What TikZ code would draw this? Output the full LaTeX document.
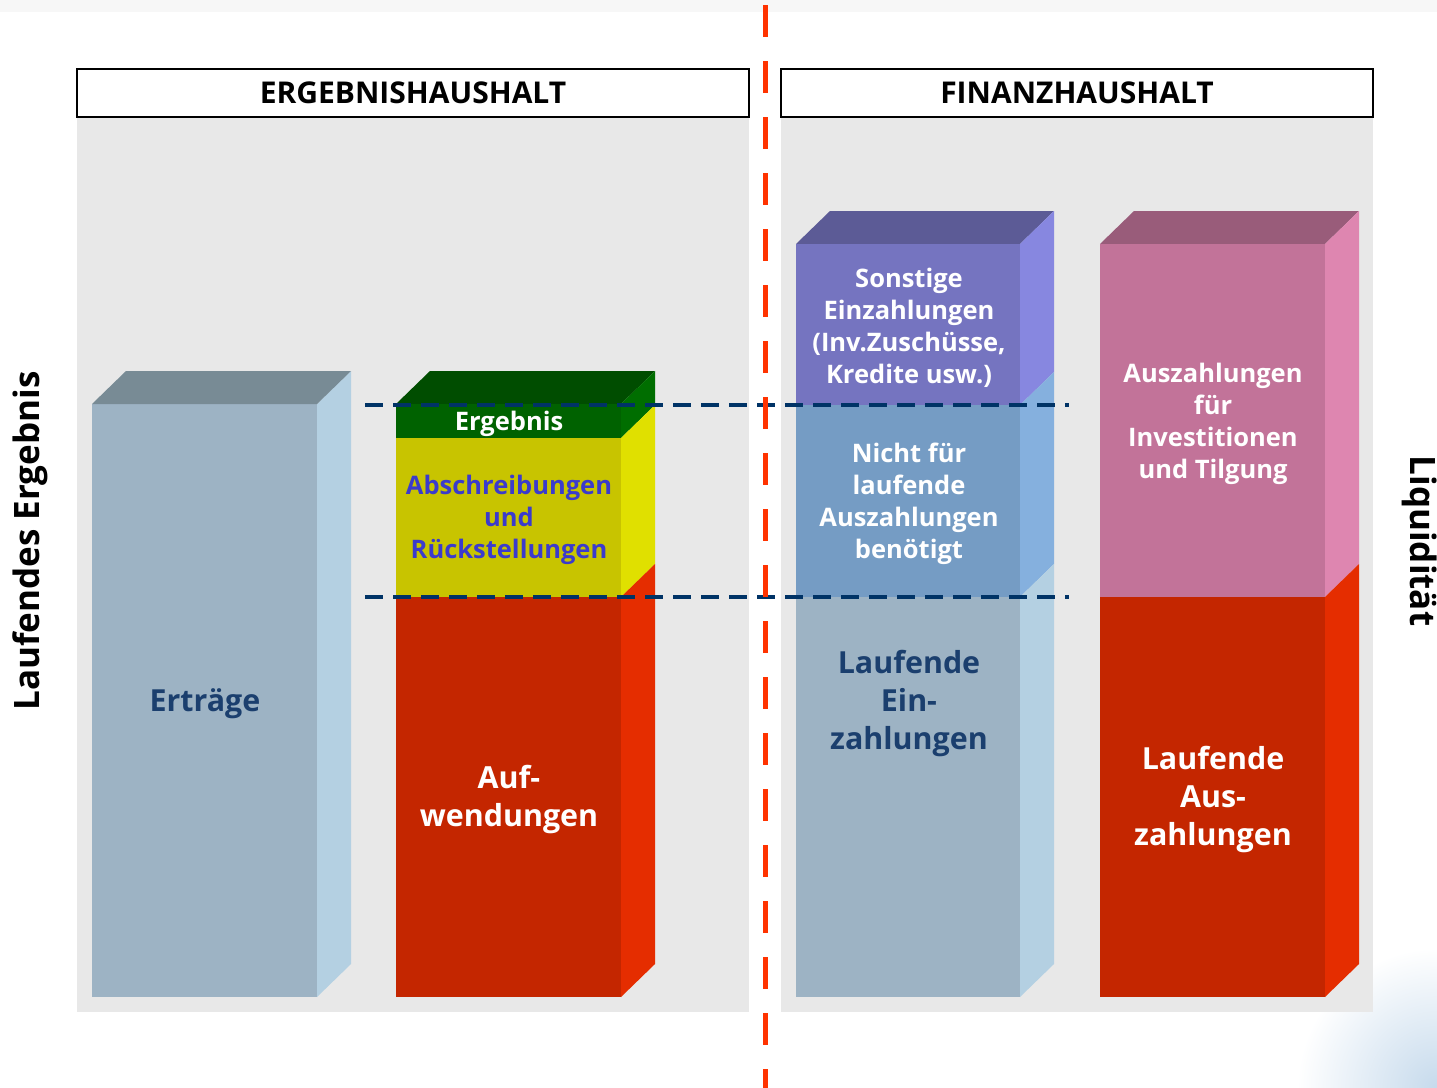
\documentclass[tikz,border=0pt]{standalone}
\usepackage{fontspec}
\setmainfont{Open Sans}
\usetikzlibrary{positioning}

% colori delle colonne
\definecolor{sfondo}{HTML}{E8E8E8}
\definecolor{fascia}{HTML}{F7F7F7}
\definecolor{grigiob}{HTML}{9DB3C4}
\definecolor{grigiobtop}{HTML}{788B95}
\definecolor{grigiobside}{HTML}{B4D0E2}
\definecolor{verde}{HTML}{006200}
\definecolor{verdetop}{HTML}{004D00}
\definecolor{verdeside}{HTML}{006E00}
\definecolor{giallo}{HTML}{C8C400}
\definecolor{gialloside}{HTML}{E0E000}
\definecolor{rosso}{HTML}{C42600}
\definecolor{rossoside}{HTML}{E52D00}
\definecolor{viola}{HTML}{7574C0}
\definecolor{violatop}{HTML}{5C5B96}
\definecolor{violaside}{HTML}{8787E0}
\definecolor{azzurro}{HTML}{759CC4}
\definecolor{azzurroside}{HTML}{85B0DE}
\definecolor{rosa}{HTML}{C27399}
\definecolor{rosatop}{HTML}{995C7A}
\definecolor{rosaside}{HTML}{DE86B0}
\definecolor{blunotte}{HTML}{003366}
\definecolor{bluscuro}{HTML}{1B3F6E}
\definecolor{blutesto}{HTML}{3B3BCC}
\definecolor{arancio}{HTML}{FF3300}
\definecolor{celeste}{HTML}{C6DAEC}

\begin{document}
\begin{tikzpicture}[x=0.5pt, y=-0.5pt,
			testo/.style={align=center, text=white, inner sep=0pt,
				font=\bfseries\fontsize{12.75}{16}\selectfont},
			grande/.style={align=center, text=white, inner sep=0pt,
				font=\bfseries\fontsize{15.2}{19}\selectfont},
			titolo/.style={draw=black, line width=1pt, fill=white, inner sep=0pt,
				minimum height=24pt, font=\bfseries\fontsize{15}{18}\selectfont},
			asse/.style={inner sep=0pt, font=\bfseries\fontsize{17.5}{20}\selectfont},
			soglia/.style={blunotte, line width=1.75pt, dash pattern=on 9pt off 5pt},
			confine/.style={arancio, line width=2.5pt, dash pattern=on 16pt off 12pt}]
			
			\useasboundingbox (0,0) rectangle (1437,1088);
			
			% fascia in alto e alone in basso a destra
			\fill[fascia] (0,0) rectangle (1437,12);
			\shade[inner color=celeste, outer color=white] (1437,1088) circle (140);
			
			% --- Pannelli ---
			\fill[sfondo] (77,117) rectangle (749,1012);
			\fill[sfondo] (781,117) rectangle (1373,1012);
			\node[titolo, minimum width=336pt] (eh) at (413,93) {ERGEBNISHAUSHALT};
			\node[titolo, minimum width=296pt] (fh) at (1077,93) {FINANZHAUSHALT};
			
			% --- Colonna Ertraege ---
			\fill[grigiob] (92,404) rectangle (317,997);
			\fill[grigiobside] (317,404) -- (351,371) -- (351,964) -- (317,997) -- cycle;
			\fill[grigiobtop] (92,404) -- (126,371) -- (351,371) -- (317,404) -- cycle;
			
			% --- Colonna Aufwendungen ---
			\fill[verdetop] (396,404) -- (430,371) -- (655,371) -- (621,404) -- cycle;
			\fill[verde] (396,404) rectangle (621,438);
			\fill[verdeside] (621,404) -- (655,371) -- (655,405) -- (621,438) -- cycle;
			\fill[giallo] (396,438) rectangle (621,597);
			\fill[gialloside] (621,438) -- (655,405) -- (655,564) -- (621,597) -- cycle;
			\fill[rosso] (396,597) rectangle (621,997);
			\fill[rossoside] (621,597) -- (655,564) -- (655,964) -- (621,997) -- cycle;
			
			% --- Colonna Einzahlungen ---
			\fill[violatop] (796,244) -- (830,211) -- (1054,211) -- (1020,244) -- cycle;
			\fill[viola] (796,244) rectangle (1020,405);
			\fill[violaside] (1020,244) -- (1054,211) -- (1054,372) -- (1020,405) -- cycle;
			\fill[azzurro] (796,405) rectangle (1020,597);
			\fill[azzurroside] (1020,405) -- (1054,372) -- (1054,564) -- (1020,597) -- cycle;
			\fill[grigiob] (796,597) rectangle (1020,997);
			\fill[grigiobside] (1020,597) -- (1054,564) -- (1054,964) -- (1020,997) -- cycle;
			
			% --- Colonna Auszahlungen ---
			\fill[rosatop] (1100,244) -- (1134,211) -- (1359,211) -- (1325,244) -- cycle;
			\fill[rosa] (1100,244) rectangle (1325,597);
			\fill[rosaside] (1325,244) -- (1359,211) -- (1359,564) -- (1325,597) -- cycle;
			\fill[rosso] (1100,597) rectangle (1325,997);
			\fill[rossoside] (1325,597) -- (1359,564) -- (1359,964) -- (1325,997) -- cycle;
			
			% Etichette
			\node[grande, text=bluscuro] (ertraege) at (205,704) {Erträge};
			\node[testo] (ergebnis) at (509,424) {Ergebnis};
			\node[testo, text=blutesto] (abschr) at (509,520) {Abschreibungen\\und\\Rückstellungen};
			\node[grande] (aufw) at (509,800) {Auf-\\wendungen};
			\node[testo] (sonstige) at (909,328) {Sonstige\\Einzahlungen\\(Inv.Zuschüsse,\\Kredite usw.)};
			\node[testo] (nicht) at (909,504) {Nicht für\\laufende\\Auszahlungen\\benötigt};
			\node[grande, text=bluscuro] (lfdein) at (909,704) {Laufende\\Ein-\\zahlungen};
			\node[testo] (invest) at (1213,424) {Auszahlungen\\für\\Investitionen\\und Tilgung};
			\node[grande] (lfdaus) at (1213,800) {Laufende\\Aus-\\zahlungen};
			\node[asse, rotate=90] (lfderg) at (30,541) {Laufendes Ergebnis};
			\node[asse, rotate=-90] (liqu) at (1420,541) {Liquidität};
			
			% --- Linee di livello e confine ---
			\coordinate (s1) at (365,405);
			\coordinate (e1) at (1069,405);
			\coordinate (s2) at (365,597);
			\coordinate (e2) at (1069,597);
			\draw[soglia] (s1) -- (e1);
			\draw[soglia] (s2) -- (e2);
			
			\coordinate (csu) at (765.5,5);
			\coordinate (cgiu) at (765.5,1088);
			\draw[confine] (csu) -- (cgiu);
		\end{tikzpicture}
\end{document}
